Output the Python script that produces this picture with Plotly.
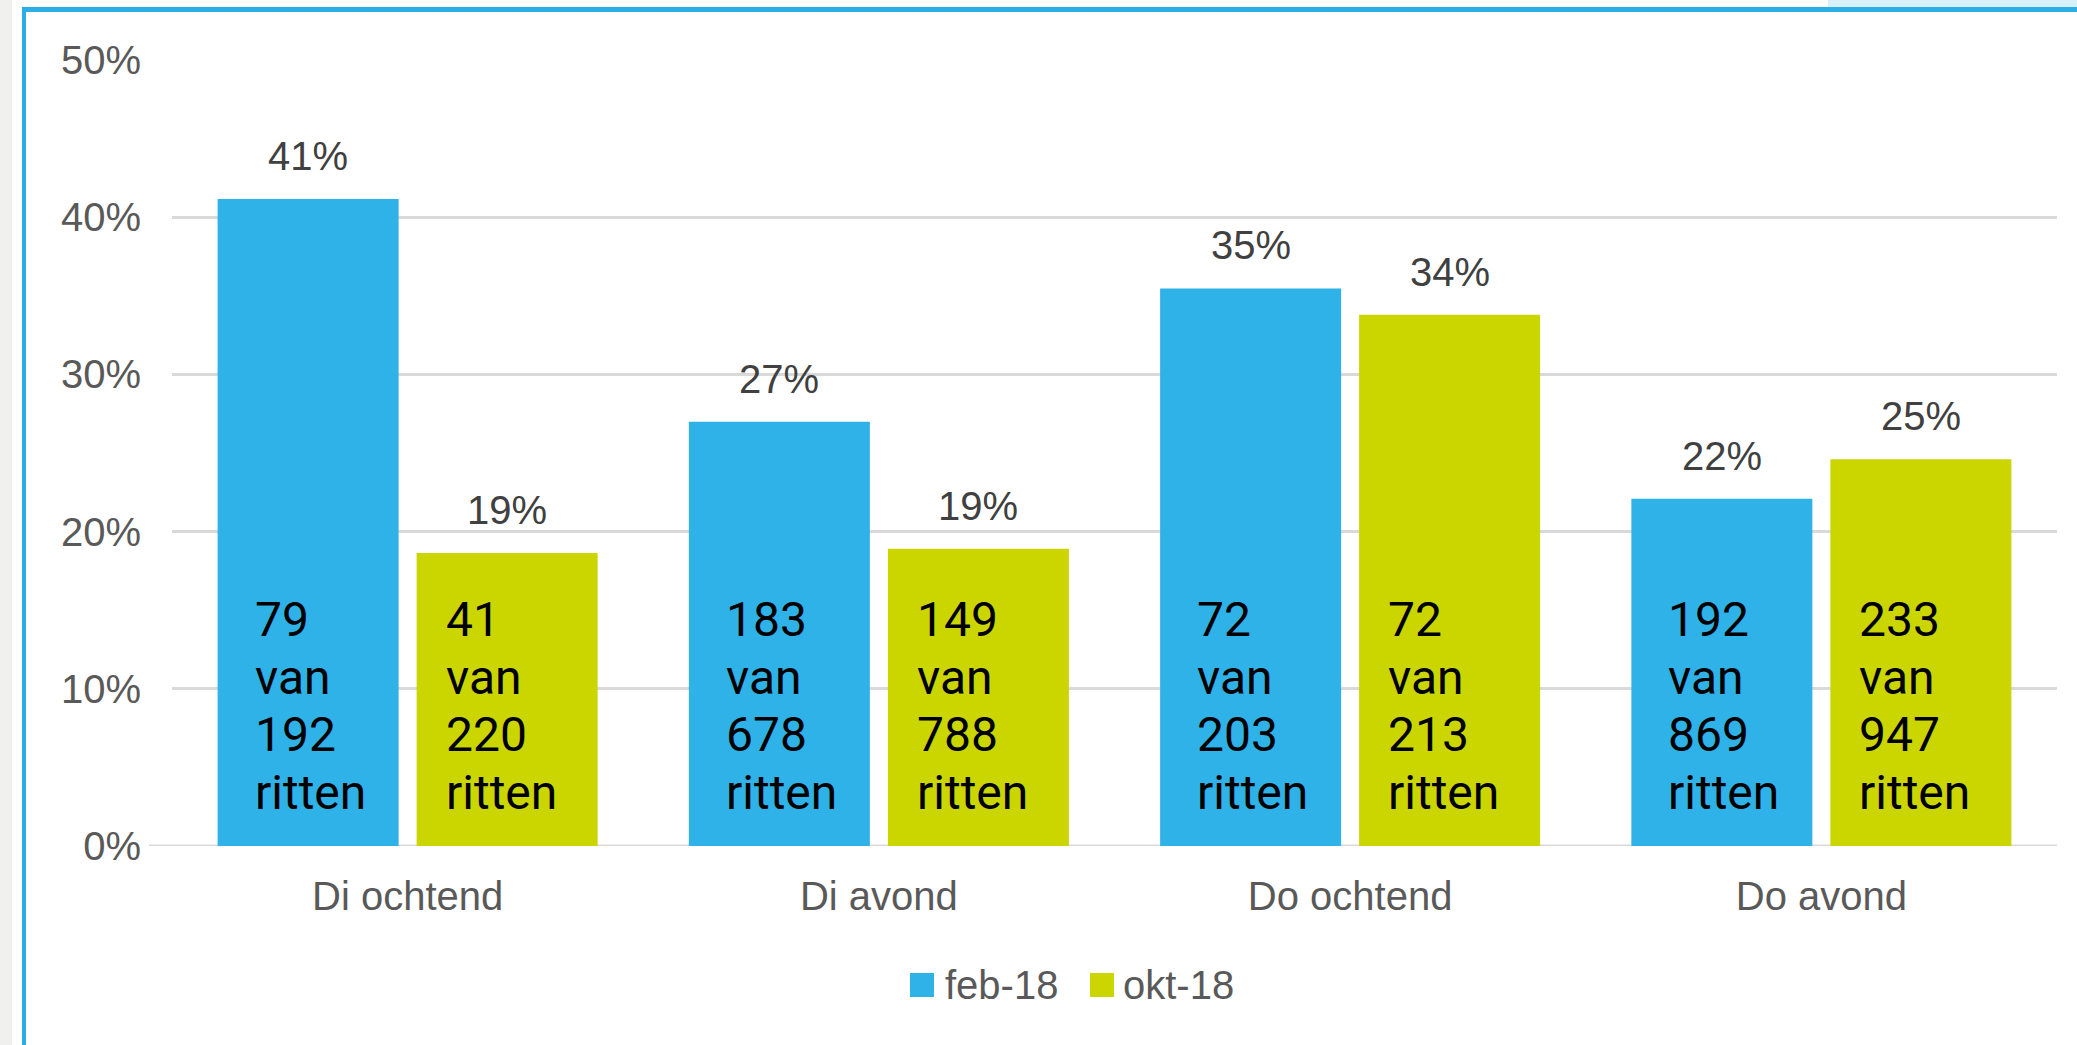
import plotly.graph_objects as go

# ---- data -------------------------------------------------------------
categories = ["Di ochtend", "Di avond", "Do ochtend", "Do avond"]
series_names = ["feb-18", "okt-18"]
feb_pct = [41.15, 26.99, 35.47, 22.09]
okt_pct = [18.64, 18.91, 33.80, 24.60]
feb_ritten = [79, 183, 72, 192]
feb_totaal = [192, 678, 203, 869]
okt_ritten = [41, 149, 72, 233]
okt_totaal = [220, 788, 213, 947]
y_tickvals = [0, 10, 20, 30, 40, 50]
y_ticktext = ["0%", "10%", "20%", "30%", "40%", "50%"]

# ---- style ------------------------------------------------------------
BLUE = "#2EB2E8"
GREEN = "#CBD500"
FRAME = "#2BAEE6"
GRID = "#D9D9D9"
AXIS_TXT = "#595959"
VAL_TXT = "#404040"
AX_FONT = "Liberation Sans, Arial, sans-serif"
IN_FONT = "Roboto, sans-serif"

W, H = 2077, 1045
ML, MR, MT, MB = 172, 20, 60, 199
PW = W - ML - MR
PH = H - MT - MB


def px(x):
    """pixel column -> paper x"""
    return (x - ML) / PW


def py(y):
    """pixel row -> paper y"""
    return 1 - (y - MT) / PH


BAR_HALF_SLOT = 99.5   # px between category centre and bar centre
fig = go.Figure()
fig.add_trace(go.Bar(x=categories, y=feb_pct, name=series_names[0],
                     marker=dict(color=BLUE, line=dict(width=0)),
                     showlegend=False))
fig.add_trace(go.Bar(x=categories, y=okt_pct, name=series_names[1],
                     marker=dict(color=GREEN, line=dict(width=0)),
                     showlegend=False))

annotations = []
series = [
    (feb_pct, feb_ritten, feb_totaal, -BAR_HALF_SLOT, -155),
    (okt_pct, okt_ritten, okt_totaal, BAR_HALF_SLOT, 36),
]
line_shifts = [196, 138, 81, 23]
for pcts, hits, totals, centre_shift, text_left in series:
    for cat, p, h, t in zip(categories, pcts, hits, totals):
        # value label above the bar
        annotations.append(dict(
            x=cat, y=p, xref="x", yref="y", text=f"{p:.0f}%",
            showarrow=False, xanchor="center", yanchor="bottom",
            xshift=centre_shift, yshift=19,
            font=dict(family=AX_FONT, size=40, color=VAL_TXT)))
        # count text inside the bar, one line at a time
        for line, ys in zip([str(h), "van", str(t), "ritten"], line_shifts):
            annotations.append(dict(
                x=cat, y=0, xref="x", yref="y", text=line,
                showarrow=False, xanchor="left", yanchor="bottom",
                xshift=text_left, yshift=ys, align="left",
                font=dict(family=IN_FONT, size=48, color="#000000")))

# legend entries
legend_items = [(series_names[0], BLUE, 910, 943), (series_names[1], GREEN, 1090, 1121)]
shapes = []
for name, col, sq_x, txt_x in legend_items:
    shapes.append(dict(type="rect", xref="paper", yref="paper",
                       x0=px(sq_x), x1=px(sq_x + 24), y0=py(997), y1=py(973),
                       fillcolor=col, line=dict(width=0)))
    annotations.append(dict(x=px(txt_x), y=py(985), xref="paper", yref="paper",
                            text=name, showarrow=False, xanchor="left",
                            yanchor="middle",
                            font=dict(family=AX_FONT, size=40, color=AXIS_TXT)))

# baseline extending a little left of the plot area
shapes.append(dict(type="line", xref="paper", yref="y", x0=px(149), x1=1,
                   y0=0, y1=0, layer="below",
                   line=dict(color=GRID, width=3)))

# surrounding frame
shapes += [
    dict(type="rect", xref="paper", yref="paper", x0=px(0), x1=px(12),
         y0=py(H + 5), y1=py(-5), fillcolor="#F0F0EE", line=dict(width=0)),
    dict(type="rect", xref="paper", yref="paper", x0=px(1828), x1=px(W + 5),
         y0=py(7), y1=py(-5), fillcolor="#D6F1FB", line=dict(width=0)),
    dict(type="rect", xref="paper", yref="paper", x0=px(22), x1=px(26),
         y0=py(H + 5), y1=py(7), fillcolor=FRAME, line=dict(width=0)),
    dict(type="rect", xref="paper", yref="paper", x0=px(22), x1=px(W + 5),
         y0=py(12), y1=py(7), fillcolor=FRAME, line=dict(width=0)),
]

fig.update_layout(
    width=W, height=H,
    margin=dict(l=ML, r=MR, t=MT, b=MB, pad=0),
    paper_bgcolor="white", plot_bgcolor="white",
    barmode="group", bargap=0.1554, bargroupgap=0.0905,
    showlegend=False,
    annotations=annotations, shapes=shapes,
    xaxis=dict(showline=False, showgrid=False, zeroline=False, ticks="",
               ticklabelstandoff=23,
               tickfont=dict(family=AX_FONT, size=40, color=AXIS_TXT)),
    yaxis=dict(range=[0, 50], tickvals=y_tickvals, ticktext=y_ticktext,
               showline=False, zeroline=False, ticks="",
               showgrid=True, gridcolor=GRID, gridwidth=3,
               ticklabelstandoff=30,
               tickfont=dict(family=AX_FONT, size=40, color=AXIS_TXT)),
)

fig.write_html("out.html")
